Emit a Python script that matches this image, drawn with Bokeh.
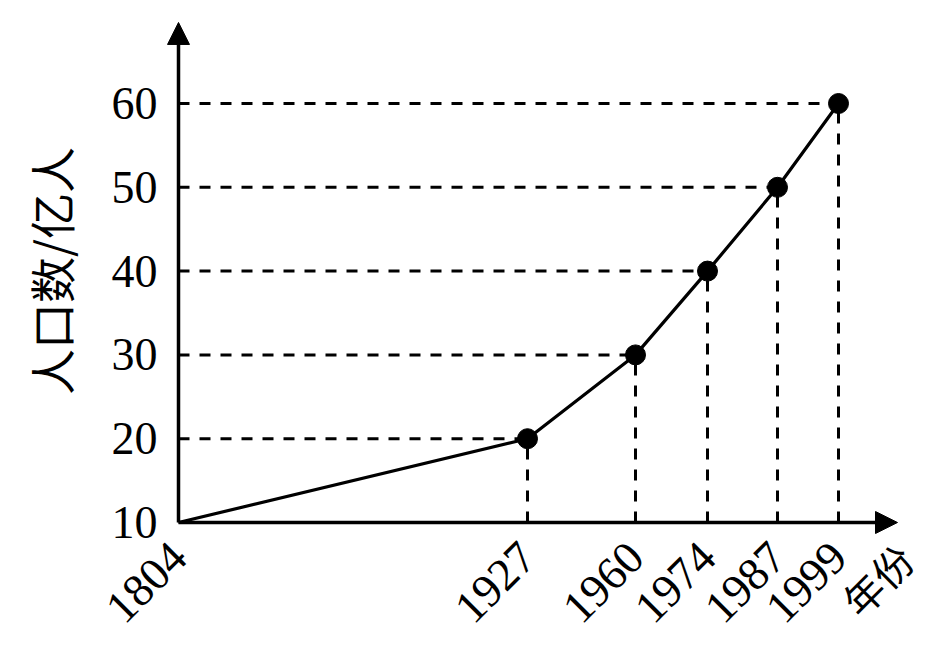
from math import pi
from bokeh.plotting import figure
from bokeh.models import Range1d, Arrow, NormalHead
from bokeh.core.properties import value
from bokeh.embed import file_html
from bokeh.resources import INLINE

# ---- data ----
years = ["1804", "1927", "1960", "1974", "1987", "1999"]
population = [10, 20, 30, 40, 50, 60]          # 人口数 / 亿人
year_slot = [0, 349, 457, 529, 599, 660]        # schematic (non-linear) place of each year on the x axis
y_ticks = [10, 20, 30, 40, 50, 60]
y_tick_labels = ["10", "20", "30", "40", "50", "60"]
y_title = "人口数/亿人"
x_title = "年份"

# ---- layout constants (screen pixels / data units) ----
W, H = 925, 640
ORIGIN_SX, ORIGIN_SY = 178, 522     # where (x=0, y=10) sits on the canvas
PX_PER_Y = 8.38                     # pixels per 1 unit of population
X_ARROW = 719                       # x axis arrow tip
Y_ARROW = 69.67                     # y axis arrow tip
X_TITLE_AT = 727
Y_TITLE_AT = 40
NUM_FONT = "Liberation Serif"
CJK_FONT = "Noto Sans CJK SC"

x0 = year_slot[0]
y0 = population[0]
p = figure(width=W, height=H, output_backend="svg", toolbar_location=None,
           x_axis_type=None, y_axis_type=None,
           x_range=Range1d(x0 - ORIGIN_SX, x0 + W - ORIGIN_SX),
           y_range=Range1d(y0 - (H - ORIGIN_SY) / PX_PER_Y, y0 + ORIGIN_SY / PX_PER_Y),
           min_border=0)
p.outline_line_color = None
p.grid.visible = False
p.background_fill_color = "white"
p.border_fill_color = "white"

# guide lines (dashed)
pts_x = year_slot[1:]
pts_y = population[1:]
p.segment(x0=[x0] * len(pts_x), y0=pts_y, x1=pts_x, y1=pts_y,
          line_color="black", line_width=3, line_dash="11 10")
p.segment(x0=pts_x, y0=[y0] * len(pts_x), x1=pts_x, y1=pts_y,
          line_color="black", line_width=3, line_dash="11 10")

# axes with arrows
p.add_layout(Arrow(end=NormalHead(size=22, fill_color="black", line_color="black", line_width=1),
                   x_start=x0, y_start=y0, x_end=x0, y_end=Y_ARROW,
                   line_color="black", line_width=3.5))
p.add_layout(Arrow(end=NormalHead(size=22, fill_color="black", line_color="black", line_width=1),
                   x_start=x0, y_start=y0, x_end=X_ARROW, y_end=y0,
                   line_color="black", line_width=3.5))

# data line and points
p.line(year_slot, population, line_color="black", line_width=3.2)
p.scatter(pts_x, pts_y, size=20, fill_color="black", line_color="black")

# y tick labels
p.text(x=[x0] * len(y_ticks), y=y_ticks, text=y_tick_labels, x_offset=-21,
       text_align="right", text_baseline="middle",
       text_font=value(NUM_FONT), text_font_size="46px", text_color="black")

# x tick labels (rotated)
p.text(x=year_slot, y=[y0] * len(year_slot), text=years, angle=pi / 4, y_offset=27,
       text_align="right", text_baseline="middle",
       text_font=value(NUM_FONT), text_font_size="46px", text_color="black")

# axis titles
p.text(x=[x0], y=[Y_TITLE_AT], text=[y_title], angle=pi / 2, x_offset=-129,
       text_align="center", text_baseline="middle",
       text_font=value(CJK_FONT), text_font_size="46px", text_color="black")
p.text(x=[X_TITLE_AT], y=[y0], text=[x_title], angle=pi / 4, y_offset=29,
       text_align="right", text_baseline="middle",
       text_font=value(CJK_FONT), text_font_size="40px", text_color="black")

open("out.html", "w").write(file_html(p, INLINE))
